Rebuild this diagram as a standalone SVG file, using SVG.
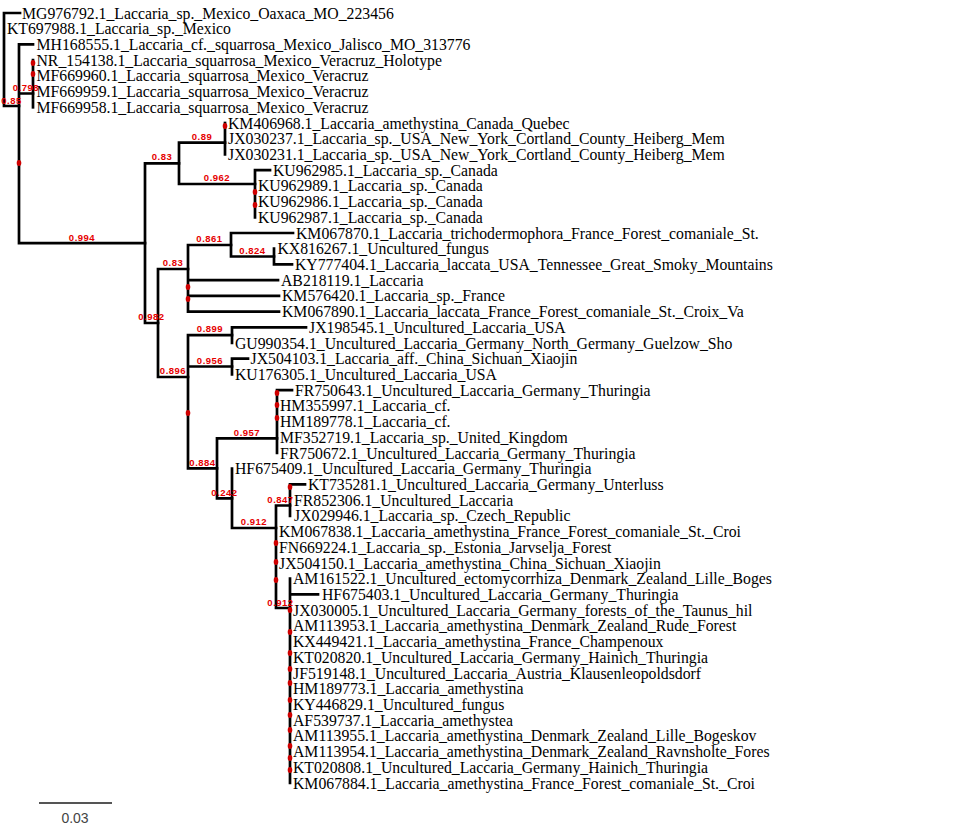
<svg xmlns="http://www.w3.org/2000/svg" width="960" height="833" viewBox="0 0 960 833">
<style>
.t{font-family:"Liberation Serif","Times New Roman",serif;font-size:15.75px;fill:#000}
.s{font-family:"Liberation Sans",Arial,sans-serif;font-size:9.5px;font-weight:bold;fill:#e60000;text-anchor:middle;letter-spacing:0.5px}
.e{stroke:#000;stroke-width:2.7;fill:none;stroke-linecap:square}
.d{fill:#d00000}
</style>
<rect width="960" height="833" fill="#fff"/>
<g id="connectors" class="e">
<path d="M4 13V106M4 13H20M4 106H19"/>
<path d="M19 44.4V243.2M19 44.4H33M19 93.5H33M19 243.2H145"/>
<path d="M33 60.1V107.3"/>
<path d="M145 163.3V323M145 163.3H179M145 323H158"/>
<path d="M179 142.6V184M179 142.6H225M179 184H255"/>
<path d="M225 123V154.4"/>
<path d="M255 170.1V217.3M255 170.1H270"/>
<path d="M158 269V377M158 269H188M158 377H188"/>
<path d="M188 245V311.6M188 245H231M188 280.1H278M188 295.9H279M188 311.6H279"/>
<path d="M231 233V256.5M231 233H293M231 256.5H274"/>
<path d="M274 248.7V264.4M274 264.4H292"/>
<path d="M188 335.1V468.3M188 335.1H232M188 366.5H232M188 468.3H217"/>
<path d="M232 327.3V343M232 327.3H306"/>
<path d="M232 358.7V374.4M232 358.7H248"/>
<path d="M217 438.3V498.3M217 438.3H277M217 498.3H232"/>
<path d="M277 390.1V453M277 390.1H292"/>
<path d="M232 468.7V528M232 528H276"/>
<path d="M276 505.5V608M276 505.5H290M276 608H290"/>
<path d="M290 484.4V515.9M290 484.4H305"/>
<path d="M290 578.7V783M290 594.4H318"/>
</g>
<g id="dots" class="d">
<ellipse cx="33" cy="63" rx="2.3" ry="3"/><ellipse cx="33" cy="74" rx="2.3" ry="3"/>
<ellipse cx="19" cy="163" rx="2.3" ry="3"/>
<ellipse cx="225" cy="126" rx="2.3" ry="3"/>
<ellipse cx="255" cy="192" rx="2.3" ry="3"/><ellipse cx="255" cy="205" rx="2.3" ry="3"/>
<ellipse cx="188" cy="287" rx="2.3" ry="3"/><ellipse cx="188" cy="299" rx="2.3" ry="3"/>
<ellipse cx="188" cy="413" rx="2.3" ry="3"/>
<ellipse cx="277" cy="393" rx="2.3" ry="3"/><ellipse cx="277" cy="405" rx="2.3" ry="3"/><ellipse cx="277" cy="418" rx="2.3" ry="3"/>
<ellipse cx="290" cy="487" rx="2.3" ry="3"/>
<ellipse cx="276" cy="543" rx="2.3" ry="3"/><ellipse cx="276" cy="562" rx="2.3" ry="3"/><ellipse cx="276" cy="580" rx="2.3" ry="3"/>
<ellipse cx="290" cy="610" rx="2.3" ry="3"/><ellipse cx="290" cy="632" rx="2.3" ry="3"/><ellipse cx="290" cy="653" rx="2.3" ry="3"/><ellipse cx="290" cy="669" rx="2.3" ry="3"/><ellipse cx="290" cy="683" rx="2.3" ry="3"/><ellipse cx="290" cy="700" rx="2.3" ry="3"/><ellipse cx="290" cy="715" rx="2.3" ry="3"/><ellipse cx="290" cy="730" rx="2.3" ry="3"/><ellipse cx="290" cy="746" rx="2.3" ry="3"/><ellipse cx="290" cy="758" rx="2.3" ry="3"/><ellipse cx="290" cy="770" rx="2.3" ry="3"/>
</g>
<g id="support" class="s">
<text x="11.5" y="104">0.85</text>
<text x="26" y="91">0.798</text>
<text x="82" y="241">0.994</text>
<text x="162" y="160">0.83</text>
<text x="202" y="140">0.89</text>
<text x="217" y="181">0.962</text>
<text x="151.5" y="320">0.982</text>
<text x="173" y="266">0.83</text>
<text x="209.5" y="242">0.861</text>
<text x="252.5" y="254">0.824</text>
<text x="173" y="374">0.896</text>
<text x="210" y="332">0.899</text>
<text x="210" y="364">0.956</text>
<text x="247" y="435.5">0.957</text>
<text x="202.5" y="465.5">0.884</text>
<text x="224.5" y="496">0.242</text>
<text x="254" y="525">0.912</text>
<text x="280.5" y="503">0.847</text>
<text x="280.5" y="606">0.912</text>
</g>
<g id="leaves" class="t">
<g id="n1"><text x="22" y="18.5">MG976792.1_Laccaria_sp._Mexico_Oaxaca_MO_223456</text></g>
<g id="n2"><text x="7" y="34.2">KT697988.1_Laccaria_sp._Mexico</text></g>
<g id="n3"><text x="36.5" y="49.9">MH168555.1_Laccaria_cf._squarrosa_Mexico_Jalisco_MO_313776</text></g>
<g id="n4"><text x="36.5" y="65.6">NR_154138.1_Laccaria_squarrosa_Mexico_Veracruz_Holotype</text></g>
<g id="n5"><text x="36.5" y="81.4">MF669960.1_Laccaria_squarrosa_Mexico_Veracruz</text></g>
<g id="n6"><text x="36.5" y="97.1">MF669959.1_Laccaria_squarrosa_Mexico_Veracruz</text></g>
<g id="n7"><text x="36.5" y="112.8">MF669958.1_Laccaria_squarrosa_Mexico_Veracruz</text></g>
<g id="n8"><text x="228" y="128.5">KM406968.1_Laccaria_amethystina_Canada_Quebec</text></g>
<g id="n9"><text x="228" y="144.2">JX030237.1_Laccaria_sp._USA_New_York_Cortland_County_Heiberg_Mem</text></g>
<g id="n10"><text x="228" y="159.9">JX030231.1_Laccaria_sp._USA_New_York_Cortland_County_Heiberg_Mem</text></g>
<g id="n11"><text x="273" y="175.6">KU962985.1_Laccaria_sp._Canada</text></g>
<g id="n12"><text x="258" y="191.4">KU962989.1_Laccaria_sp._Canada</text></g>
<g id="n13"><text x="258" y="207.1">KU962986.1_Laccaria_sp._Canada</text></g>
<g id="n14"><text x="258" y="222.8">KU962987.1_Laccaria_sp._Canada</text></g>
<g id="n15"><text x="296" y="238.5">KM067870.1_Laccaria_trichodermophora_France_Forest_comaniale_St.</text></g>
<g id="n16"><text x="277.5" y="254.2">KX816267.1_Uncultured_fungus</text></g>
<g id="n17"><text x="295" y="269.9">KY777404.1_Laccaria_laccata_USA_Tennessee_Great_Smoky_Mountains</text></g>
<g id="n18"><text x="281" y="285.6">AB218119.1_Laccaria</text></g>
<g id="n19"><text x="282" y="301.4">KM576420.1_Laccaria_sp._France</text></g>
<g id="n20"><text x="282" y="317.1">KM067890.1_Laccaria_laccata_France_Forest_comaniale_St._Croix_Va</text></g>
<g id="n21"><text x="309" y="332.8">JX198545.1_Uncultured_Laccaria_USA</text></g>
<g id="n22"><text x="235" y="348.5">GU990354.1_Uncultured_Laccaria_Germany_North_Germany_Guelzow_Sho</text></g>
<g id="n23"><text x="250.5" y="364.2">JX504103.1_Laccaria_aff._China_Sichuan_Xiaojin</text></g>
<g id="n24"><text x="235" y="379.9">KU176305.1_Uncultured_Laccaria_USA</text></g>
<g id="n25"><text x="295" y="395.6">FR750643.1_Uncultured_Laccaria_Germany_Thuringia</text></g>
<g id="n26"><text x="280" y="411.4">HM355997.1_Laccaria_cf.</text></g>
<g id="n27"><text x="280" y="427.1">HM189778.1_Laccaria_cf.</text></g>
<g id="n28"><text x="280" y="442.8">MF352719.1_Laccaria_sp._United_Kingdom</text></g>
<g id="n29"><text x="280" y="458.5">FR750672.1_Uncultured_Laccaria_Germany_Thuringia</text></g>
<g id="n30"><text x="235" y="474.2">HF675409.1_Uncultured_Laccaria_Germany_Thuringia</text></g>
<g id="n31"><text x="308" y="489.9">KT735281.1_Uncultured_Laccaria_Germany_Unterluss</text></g>
<g id="n32"><text x="294" y="505.6">FR852306.1_Uncultured_Laccaria</text></g>
<g id="n33"><text x="294" y="521.4">JX029946.1_Laccaria_sp._Czech_Republic</text></g>
<g id="n34"><text x="279" y="537.1">KM067838.1_Laccaria_amethystina_France_Forest_comaniale_St._Croi</text></g>
<g id="n35"><text x="279" y="552.8">FN669224.1_Laccaria_sp._Estonia_Jarvselja_Forest</text></g>
<g id="n36"><text x="279" y="568.5">JX504150.1_Laccaria_amethystina_China_Sichuan_Xiaojin</text></g>
<g id="n37"><text x="293" y="584.2">AM161522.1_Uncultured_ectomycorrhiza_Denmark_Zealand_Lille_Boges</text></g>
<g id="n38"><text x="322" y="599.9">HF675403.1_Uncultured_Laccaria_Germany_Thuringia</text></g>
<g id="n39"><text x="293" y="615.6">JX030005.1_Uncultured_Laccaria_Germany_forests_of_the_Taunus_hil</text></g>
<g id="n40"><text x="293" y="631.4">AM113953.1_Laccaria_amethystina_Denmark_Zealand_Rude_Forest</text></g>
<g id="n41"><text x="293" y="647.1">KX449421.1_Laccaria_amethystina_France_Champenoux</text></g>
<g id="n42"><text x="293" y="662.8">KT020820.1_Uncultured_Laccaria_Germany_Hainich_Thuringia</text></g>
<g id="n43"><text x="293" y="678.5">JF519148.1_Uncultured_Laccaria_Austria_Klausenleopoldsdorf</text></g>
<g id="n44"><text x="293" y="694.2">HM189773.1_Laccaria_amethystina</text></g>
<g id="n45"><text x="293" y="709.9">KY446829.1_Uncultured_fungus</text></g>
<g id="n46"><text x="293" y="725.6">AF539737.1_Laccaria_amethystea</text></g>
<g id="n47"><text x="293" y="741.4">AM113955.1_Laccaria_amethystina_Denmark_Zealand_Lille_Bogeskov</text></g>
<g id="n48"><text x="293" y="757.1">AM113954.1_Laccaria_amethystina_Denmark_Zealand_Ravnsholte_Fores</text></g>
<g id="n49"><text x="293" y="772.8">KT020808.1_Uncultured_Laccaria_Germany_Hainich_Thuringia</text></g>
<g id="n50"><text x="293" y="788.5">KM067884.1_Laccaria_amethystina_France_Forest_comaniale_St._Croi</text></g>
</g>
<g id="scale">
<path d="M39 803H112" stroke="#555" stroke-width="2"/>
<text x="75" y="823" font-family="'Liberation Sans',Arial,sans-serif" font-size="14" fill="#444" text-anchor="middle">0.03</text>
</g>
</svg>
